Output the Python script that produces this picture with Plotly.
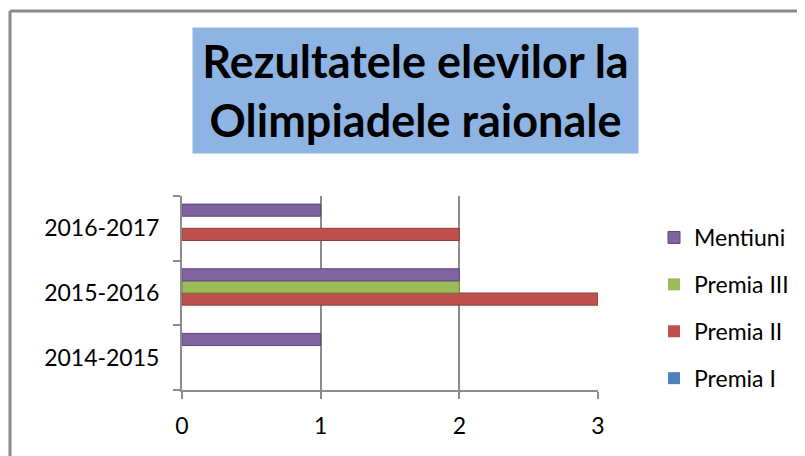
import plotly.graph_objects as go

categories = ["2014-2015", "2015-2016", "2016-2017"]
premia_I = [0, 0, 0]
premia_II = [0, 3, 2]
premia_III = [0, 2, 0]
mentiuni = [1, 2, 1]
x_ticks = [0, 1, 2, 3]

series = [
    ("Premia I", premia_I, "#4F81BD", "#3A6494", 4),
    ("Premia II", premia_II, "#C0504D", "#8E3B39", 3),
    ("Premia III", premia_III, "#9BBB59", "#708A3E", 2),
    ("Mentiuni", mentiuni, "#8064A2", "#5C4878", 1),
]

# the page body has an 8px margin, so the figure is drawn 8px in from the corner
OFF = 8
W, H = 805 - OFF, 456 - OFF
ML, MR, MT, MB = 182 - OFF, 805 - 598, 196 - OFF, 456 - 390
PW, PH = W - ML - MR, H - MT - MB


def px(x):
    return (x - OFF - ML) / PW


def py(y):
    return (H - MB - (y - OFF)) / PH


fig = go.Figure()
for name, vals, col, dark, rank in series:
    fig.add_trace(go.Bar(
        y=categories, x=vals, name=name, orientation="h",
        marker=dict(color=col, line=dict(color=dark,
                                         width=[1 if v else 0 for v in vals])),
        legendgroup=name, legendrank=rank,
    ))

FONT = "Lato, Open Sans, sans-serif"
GRID = "#8C8C8C"

fig.update_layout(
    width=W, height=H,
    margin=dict(l=ML, r=MR, t=MT, b=MB, autoexpand=False),
    paper_bgcolor="white", plot_bgcolor="white",
    barmode="group", bargap=0.25, bargroupgap=0,
    font=dict(family=FONT, size=23, color="black"),
    showlegend=True,
    legend=dict(
        x=px(654), y=py(216), xanchor="left", yanchor="top",
        traceorder="grouped", tracegroupgap=14,
        font=dict(family=FONT, size=23, color="black"),
        itemwidth=30, bgcolor="rgba(0,0,0,0)",
    ),
    xaxis=dict(
        range=[0, 3], tickvals=x_ticks, ticktext=[str(v) for v in x_ticks],
        showgrid=True, gridcolor=GRID, gridwidth=2,
        showline=True, linecolor=GRID, linewidth=2,
        ticks="outside", ticklen=7, tickcolor=GRID, tickwidth=2,
        ticklabelstandoff=7, zeroline=False, automargin=False,
    ),
    yaxis=dict(
        type="category", categoryorder="array", categoryarray=categories,
        showgrid=False, showline=True, linecolor=GRID, linewidth=2,
        ticks="outside", ticklen=7, tickcolor=GRID, tickwidth=2,
        tickson="boundaries", ticklabelstandoff=16, automargin=False,
    ),
    annotations=[dict(
        text="<b>Rezultatele elevilor la<br>Olimpiadele raionale</b>",
        xref="paper", yref="paper", x=px(415.5), y=py(90.5),
        xanchor="center", yanchor="middle", showarrow=False,
        width=445, height=125, bgcolor="#8DB4E2", borderpad=0,
        font=dict(family=FONT, size=45, color="black"),
    )],
    shapes=[
        dict(type="line", xref="paper", yref="paper",
             x0=px(10), y0=py(11), x1=px(806), y1=py(11),
             line=dict(color="#8A8A8A", width=3)),
        dict(type="line", xref="paper", yref="paper",
             x0=px(10), y0=py(11), x1=px(10), y1=py(457),
             line=dict(color="#8A8A8A", width=3)),
    ],
)

fig.write_html("out.html")
